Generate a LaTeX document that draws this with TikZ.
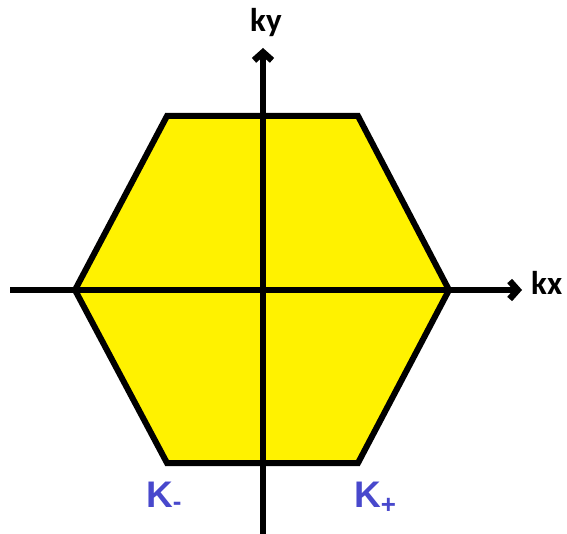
\documentclass[tikz,border=0pt]{standalone}
\usepackage{fontspec}
\setmainfont{Liberation Sans}
\newfontfamily\calfont{Carlito}
\usetikzlibrary{arrows.meta, positioning}

\definecolor{zoneyellow}{RGB}{255,242,0}
\definecolor{valleyblue}{RGB}{72,72,204}

\begin{document}
\begin{tikzpicture}[
    x=1pt, y=-1pt,
    >={Straight Barb[length=8pt, width=18pt]},
    zone/.style={
        fill=zoneyellow,
        draw=black,
        line width=6pt,
        line join=miter
    },
    axis/.style={->, line width=6.5pt},
    axlabel/.style={
        inner sep=0pt,
        anchor=base west,
        font=\calfont\bfseries\fontsize{33}{33}\selectfont
    },
    valley/.style={
        inner sep=0pt,
        anchor=base west,
        text=valleyblue,
        font=\bfseries\fontsize{37}{37}\selectfont
    }
]
\useasboundingbox (0,0) rectangle (567,534);

% zone corners
\coordinate (w)  at (75,290);
\coordinate (nw) at (167,116);
\coordinate (ne) at (358,116);
\coordinate (e)  at (449,290);
\coordinate (se) at (358,463);
\coordinate (sw) at (167,463);
\draw[zone] (w) -- (nw) -- (ne) -- (e) -- (se) -- (sw) -- cycle;

% axes
\coordinate (xfrom) at (10,290);
\coordinate (xto)   at (522,290);
\coordinate (yfrom) at (263,534);
\coordinate (yto)   at (263,48);
\draw[axis] (xfrom) -- (xto);
\draw[axis] (yfrom) -- (yto);

\node[axlabel] (ky) at (250,32) {ky};
\node[axlabel] (kx) at (531,295) {kx};
\node[valley] (kminus) at (146,507) {K\textsubscript{-}};
\node[valley] (kplus)  at (354,507) {K\textsubscript{+}};
\end{tikzpicture}
\end{document}
